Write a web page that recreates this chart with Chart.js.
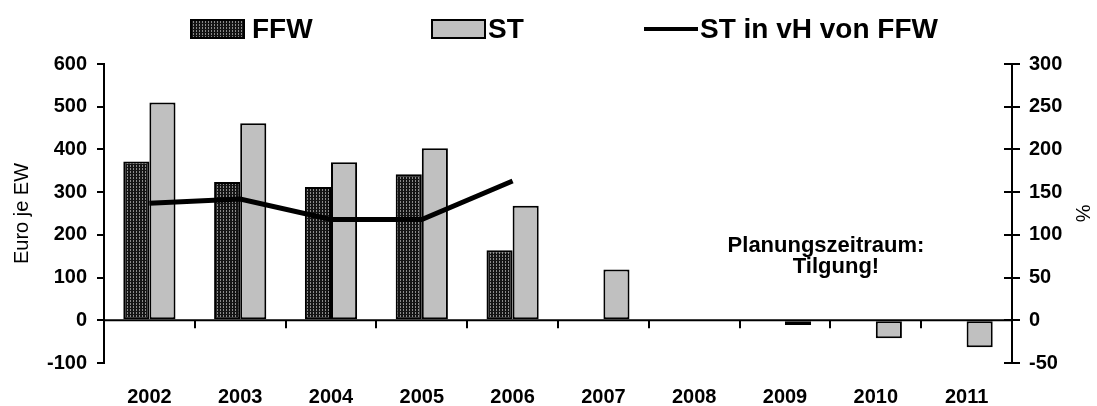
<!DOCTYPE html>
<html>
<head>
<meta charset="utf-8">
<script src="https://cdn.jsdelivr.net/npm/chart.js@4.4.1/dist/chart.umd.min.js"></script>
<style>
  html, body { margin: 0; padding: 0; background: #fff; }
  #wrap { width: 1097px; height: 406px; position: relative; }
</style>
</head>
<body>
<div id="wrap"><canvas id="c" width="1097" height="406"></canvas></div>
<script>
// Jahre
const years = ['2002', '2003', '2004', '2005', '2006', '2007', '2008', '2009', '2010', '2011'];
// Euro je Einwohner
const ffwValues = [372, 324, 312, 342, 164, null, null, null, null, null];
const stValues = [510, 461, 370, 403, 268, 119, null, -11, -42, -63];
// ST in Prozent von FFW
const stShareValues = [137, 142, 118, 118, 163, null, null, null, null, null];
// Achsenbeschriftungen
const leftTickValues = [-100, 0, 100, 200, 300, 400, 500, 600];
const rightTickValues = [-50, 0, 50, 100, 150, 200, 250, 300];
const noteLines = ['Planungszeitraum:', 'Tilgung!'];

const FONT = '"Liberation Sans", Arial, Helvetica, sans-serif';

// Punktraster für die FFW-Säulen
function makeHatch() {
  const p = document.createElement('canvas');
  p.width = 3; p.height = 3;
  const g = p.getContext('2d');
  g.fillStyle = '#141414';
  g.fillRect(0, 0, 3, 3);
  g.fillStyle = '#8a8a8a';
  g.fillRect(1, 0, 1, 2);
  return document.getElementById('c').getContext('2d').createPattern(p, 'repeat');
}
const hatch = makeHatch();

// Nulllinie, Teilstriche und Textfeld
const decorations = {
  id: 'decorations',
  afterDraw(chart) {
    const ctx = chart.ctx;
    const x = chart.scales.x, y = chart.scales.y, y2 = chart.scales.y2;
    const area = chart.chartArea;
    const y0 = y.getPixelForValue(0);
    ctx.save();
    ctx.strokeStyle = '#000';
    ctx.lineWidth = 2;
    ctx.beginPath();
    ctx.moveTo(area.left, y0);
    ctx.lineTo(area.right, y0);
    // Teilstriche zwischen den Kategorien
    for (let i = 1; i < years.length; i++) {
      const bx = Math.round((x.getPixelForValue(i - 1) + x.getPixelForValue(i)) / 2);
      ctx.moveTo(bx, y0);
      ctx.lineTo(bx, y0 + 8);
    }
    // innere Hälfte der Teilstriche rechts
    rightTickValues.forEach(v => {
      const ty = Math.round(y2.getPixelForValue(v));
      ctx.moveTo(area.right - 8, ty);
      ctx.lineTo(area.right, ty);
    });
    ctx.stroke();

    // Textfeld
    ctx.fillStyle = '#000';
    ctx.font = 'bold 22px ' + FONT;
    ctx.textAlign = 'center';
    ctx.textBaseline = 'alphabetic';
    ctx.fillText(noteLines[0], 826, 252);
    ctx.fillText(noteLines[1], 836, 273);
    ctx.restore();
  }
};

// Legende oben
const topLegend = {
  id: 'topLegend',
  afterDraw(chart) {
    const ctx = chart.ctx;
    const ds = chart.data.datasets;
    const slots = [{ bx: 190, tx: 252 }, { bx: 431, tx: 488 }, { bx: 644, tx: 700 }];
    ctx.save();
    ds.forEach((d, i) => {
      const s = slots[i];
      if (d.type === 'line') {
        ctx.strokeStyle = d.borderColor;
        ctx.lineWidth = 4;
        ctx.beginPath();
        ctx.moveTo(s.bx, 29);
        ctx.lineTo(s.bx + 54, 29);
        ctx.stroke();
      } else {
        ctx.fillStyle = d.backgroundColor;
        ctx.fillRect(s.bx, 19, 55, 20);
        ctx.strokeStyle = '#000';
        ctx.lineWidth = 2;
        ctx.strokeRect(s.bx + 1, 20, 53, 18);
      }
      ctx.fillStyle = '#000';
      ctx.font = 'bold 28px ' + FONT;
      ctx.textAlign = 'left';
      ctx.textBaseline = 'alphabetic';
      ctx.fillText(d.label, s.tx, 38);
    });
    ctx.restore();
  }
};

function fixWidth(w) {
  return function (scale) {
    scale.width = w;
    scale.paddingTop = 0; scale.paddingBottom = 0;
  };
}

new Chart(document.getElementById('c'), {
  data: {
    labels: years,
    datasets: [
      {
        type: 'bar', label: 'FFW', data: ffwValues, yAxisID: 'y', order: 2,
        backgroundColor: hatch, borderColor: '#000', borderWidth: 2, borderSkipped: false,
        categoryPercentage: 0.575, barPercentage: 1
      },
      {
        type: 'bar', label: 'ST', data: stValues, yAxisID: 'y', order: 2,
        backgroundColor: '#c0c0c0', borderColor: '#000', borderWidth: 2, borderSkipped: false,
        categoryPercentage: 0.575, barPercentage: 1
      },
      {
        type: 'line', label: 'ST in vH von FFW', data: stShareValues, yAxisID: 'y2', order: 1,
        borderColor: '#000', borderWidth: 5, pointRadius: 0, tension: 0, spanGaps: false, fill: false
      }
    ]
  },
  options: {
    responsive: false,
    animation: false,
    devicePixelRatio: 1,
    layout: { padding: { top: 64, left: 0, right: 0, bottom: 0 } },
    plugins: { legend: { display: false }, tooltip: { enabled: false } },
    scales: {
      x: {
        type: 'category', offset: true,
        grid: { display: false }, border: { display: false },
        ticks: { color: '#000', font: { family: FONT, size: 20, weight: 'bold' }, padding: 14, maxRotation: 0 },
        afterFit(scale) { scale.height = 43; scale.paddingLeft = 0; scale.paddingRight = 0; }
      },
      y: {
        position: 'left',
        min: leftTickValues[0], max: leftTickValues[leftTickValues.length - 1],
        afterBuildTicks(scale) { scale.ticks = leftTickValues.map(v => ({ value: v })); },
        grid: { drawOnChartArea: false, color: '#000', lineWidth: 2, tickLength: 7 },
        border: { display: true, color: '#000', width: 2 },
        ticks: { color: '#000', font: { family: FONT, size: 20, weight: 'bold' }, padding: 10 },
        title: { display: true, text: 'Euro je EW', color: '#000', font: { family: FONT, size: 20 }, padding: { top: 10, bottom: 0 } },
        afterFit: fixWidth(104)
      },
      y2: {
        position: 'right',
        min: rightTickValues[0], max: rightTickValues[rightTickValues.length - 1],
        afterBuildTicks(scale) { scale.ticks = rightTickValues.map(v => ({ value: v })); },
        grid: { drawOnChartArea: false, color: '#000', lineWidth: 2, tickLength: 8 },
        border: { display: true, color: '#000', width: 2 },
        ticks: { color: '#000', font: { family: FONT, size: 20, weight: 'bold' }, padding: 9 },
        title: { display: true, text: '%', color: '#000', font: { family: FONT, size: 20 }, padding: { top: 3, bottom: 0 } },
        afterFit: fixWidth(85)
      }
    }
  },
  plugins: [decorations, topLegend]
});
</script>
</body>
</html>
